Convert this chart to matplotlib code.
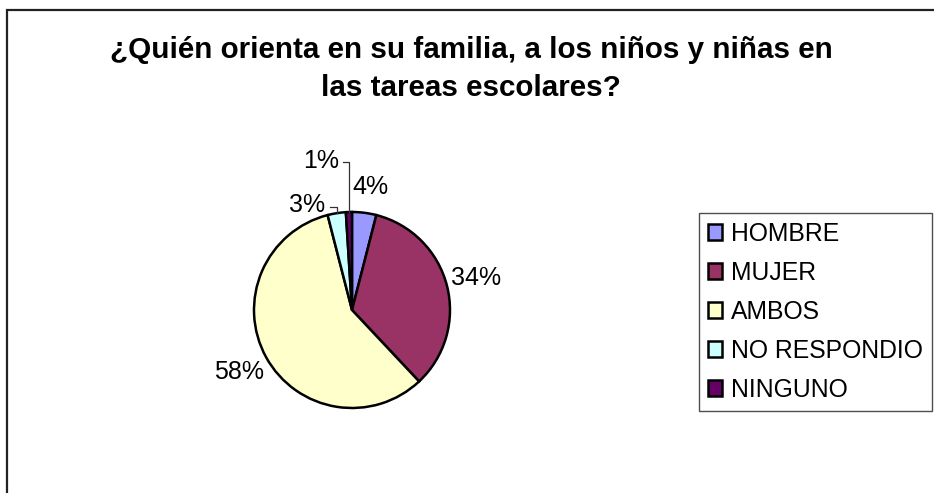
import matplotlib
matplotlib.use("Agg")
import matplotlib.pyplot as plt
from matplotlib.patches import Rectangle

plt.rcParams['font.family'] = ['Liberation Sans', 'DejaVu Sans']

title = "¿Quién orienta en su familia, a los niños y niñas en\nlas tareas escolares?"
categories = ["HOMBRE", "MUJER", "AMBOS", "NO RESPONDIO", "NINGUNO"]
values = [4, 34, 58, 3, 1]
colors = ["#9999FF", "#993366", "#FFFFCC", "#CCFFFF", "#660066"]

W, H = 934, 493
fig = plt.figure(figsize=(W / 100, H / 100), dpi=100)

# outer chart border
fig.add_artist(Rectangle((6.5 / W, -0.2), 1.3, 1.2 - 9.5 / H,
                         transform=fig.transFigure, fill=False,
                         edgecolor="#222222", linewidth=1.6, clip_on=False))

fig.text(471 / W, 1 - 69 / H, title, ha="center", va="center",
         fontsize=21.3, fontweight="bold", linespacing=1.45)

cx, cy, r = 352, 310, 98
ax = fig.add_axes([(cx - r) / W, 1 - (cy + r) / H, 2 * r / W, 2 * r / H])
wedges, texts, autotexts = ax.pie(
    values, colors=colors, startangle=90, counterclock=False,
    autopct=lambda p: f"{p:.0f}%", pctdistance=1.31,
    wedgeprops=dict(edgecolor="black", linewidth=1.8),
    textprops=dict(fontsize=18, color="black"))
ax.set_xlim(-1, 1)
ax.set_ylim(-1, 1)
ax.set_aspect("equal")
ax.axis("off")
for t in autotexts:
    t.set_clip_on(False)
    t.set_ha("center")
    t.set_va("center")

# manual positioning of small labels (moved with leader lines)
autotexts[0].set_position((0.19, 1.255))
autotexts[3].set_position((-0.46, 1.07))
autotexts[4].set_position((-0.316, 1.52))
ax.plot([-0.224, -0.156, -0.156], [1.05, 1.05, 0.988], color="#333333",
        linewidth=0.9, clip_on=False)
ax.plot([-0.092, -0.031, -0.031], [1.51, 1.51, 0.999], color="#333333",
        linewidth=0.9, clip_on=False)

leg = fig.legend(wedges, categories, loc="upper left",
                 bbox_to_anchor=(699 / W, 1 - 213 / H),
                 fontsize=17.8, frameon=True, fancybox=False, shadow=False,
                 handlelength=0.6, handleheight=0.6, handletextpad=0.35,
                 borderpad=0.35, labelspacing=0.61, borderaxespad=0)
leg.get_frame().set_edgecolor("#222222")
leg.get_frame().set_linewidth(1.0)
for h in leg.legend_handles:
    h.set_edgecolor("black")
    h.set_linewidth(1.8)

fig.savefig("out.png", dpi=100)
